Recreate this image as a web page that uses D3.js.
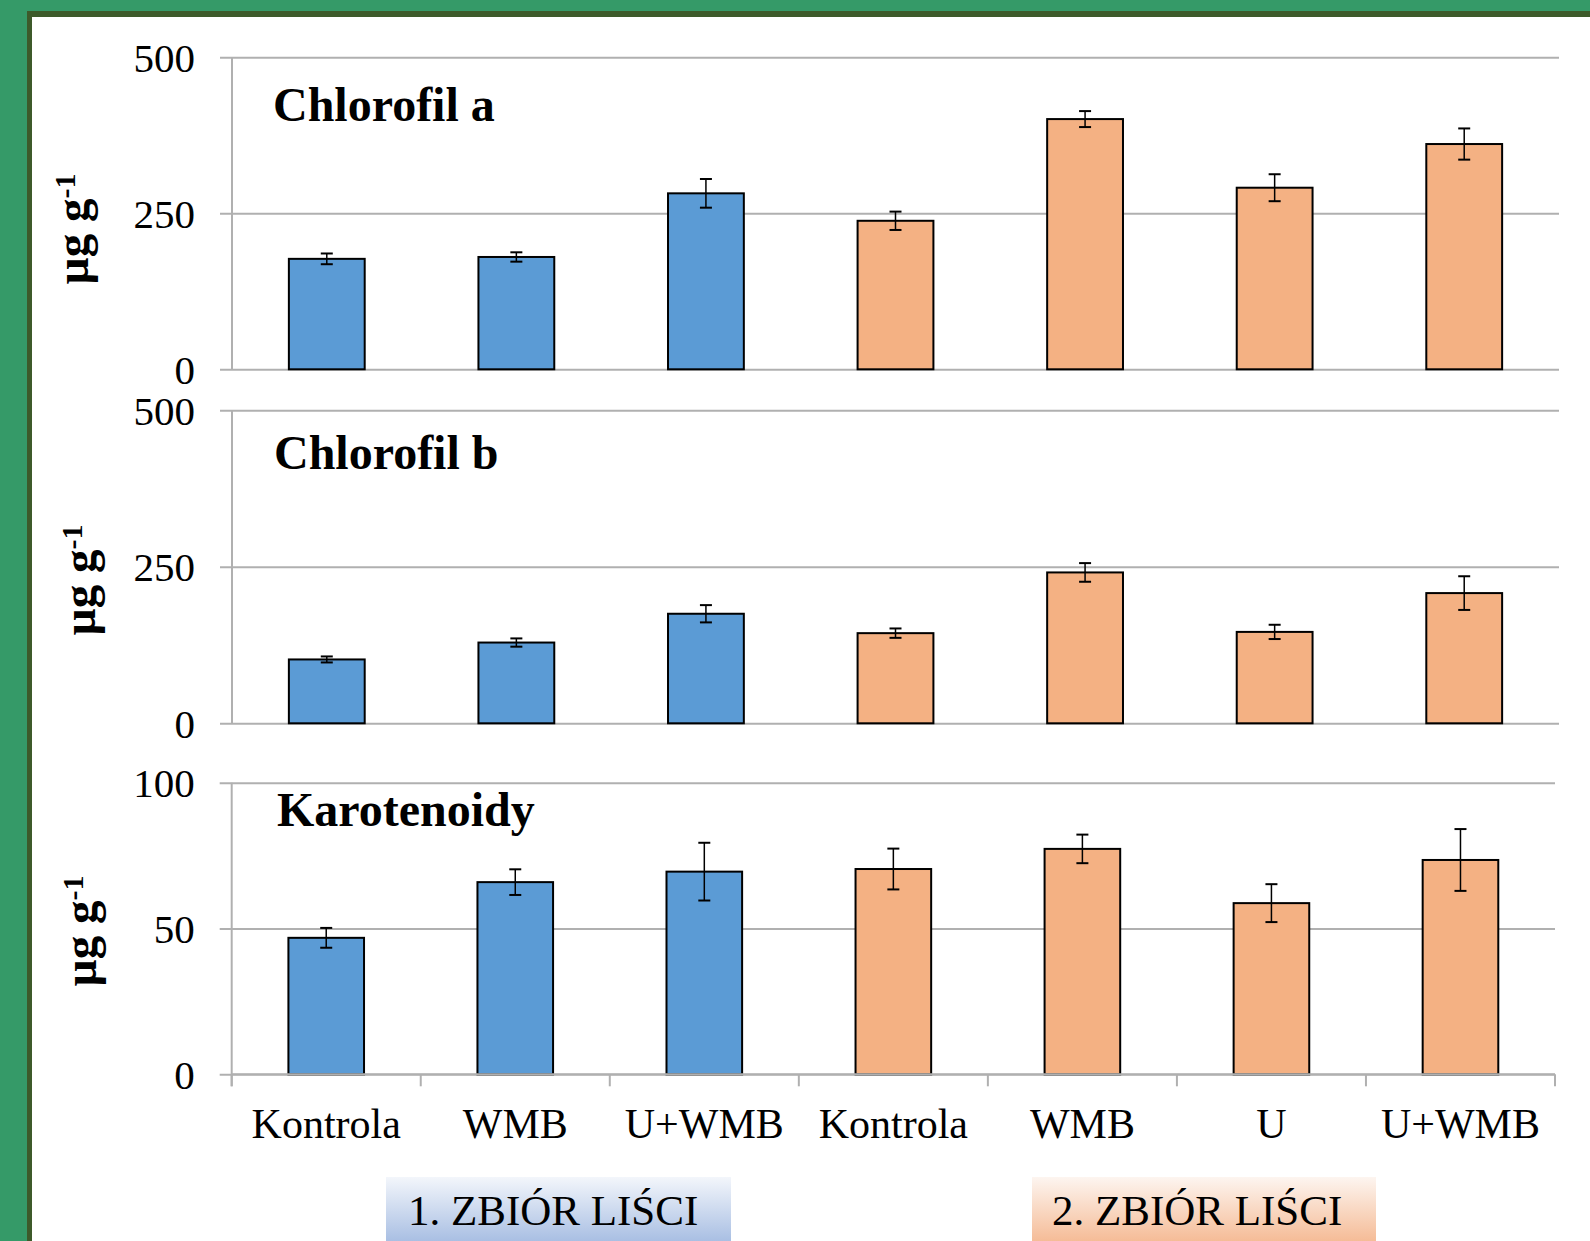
<!DOCTYPE html>
<html>
<head>
<meta charset="utf-8">
<script src="https://cdn.jsdelivr.net/npm/d3@7"></script>
<style>
  html, body { margin: 0; padding: 0; background: #fff; }
  svg { display: block; }
</style>
</head>
<body>
<svg id="chart"></svg>
<script>
// values
const categories = ['Kontrola', 'WMB', 'U+WMB', 'Kontrola', 'WMB', 'U', 'U+WMB'];
const harvest = [1, 1, 1, 2, 2, 2, 2];

const chlA = [177, 180, 282, 238, 401, 291, 361];
const chlAErr = [8.6, 7.5, 23, 14.7, 12.8, 21.6, 25];

const chlB = [102, 129, 175, 144, 241, 146, 208];
const chlBErr = [4.8, 6.6, 13.8, 7.5, 14.9, 11.4, 26.9];

const carot = [46.8, 65.9, 69.5, 70.4, 77.3, 58.7, 73.5];
const carotErr = [3.4, 4.4, 9.9, 7.0, 4.9, 6.5, 10.6];

const harvestLabels = ['1. ZBIÓR LIŚCI', '2. ZBIÓR LIŚCI'];

const W = 1590, H = 1241;
const serif = '"Liberation Serif", "Times New Roman", serif';
const color = d3.scaleOrdinal().domain([1, 2]).range(['#5b9bd5', '#f4b183']);

const svg = d3.select('#chart').attr('width', W).attr('height', H);

// green slide frame
svg.append('rect').attr('width', W).attr('height', H).attr('fill', '#359a68');
svg.append('rect').attr('x', 27).attr('y', 11).attr('width', W).attr('height', H).attr('fill', '#3d5a2a');
svg.append('rect').attr('x', 32).attr('y', 17).attr('width', W).attr('height', H).attr('fill', '#fff');

const panels = [
  { title: 'Chlorofil a', values: chlA, err: chlAErr, max: 500, ticks: [0, 250, 500],
    x0: 232, x1: 1559, top: 57.3, bottom: 369.3, titleX: 273, titleY: 121, labX: 88, labY: 229 },
  { title: 'Chlorofil b', values: chlB, err: chlBErr, max: 500, ticks: [0, 250, 500],
    x0: 232, x1: 1559, top: 410.3, bottom: 723.3, titleX: 274, titleY: 469, labX: 95, labY: 580 },
  { title: 'Karotenoidy', values: carot, err: carotErr, max: 100, ticks: [0, 50, 100],
    x0: 231.7, x1: 1555, top: 782.7, bottom: 1074.3, titleX: 277, titleY: 826, labX: 96, labY: 931, xAxis: true }
];

panels.forEach(p => {
  const g = svg.append('g');
  const x = d3.scaleBand().domain(d3.range(categories.length)).range([p.x0, p.x1])
    .paddingInner(0.6).paddingOuter(0.3);
  const y = d3.scaleLinear().domain([0, p.max]).range([p.bottom, p.top]);

  // gridlines + tick labels
  const yAxis = d3.axisLeft(y).tickValues(p.ticks).tickSize(-(p.x1 - p.x0)).tickSizeOuter(0);
  const ya = g.append('g').attr('transform', `translate(${p.x0},0)`).call(yAxis);
  ya.select('.domain').remove();
  ya.selectAll('.tick line').attr('x1', -12).attr('stroke', '#b0b0b0').attr('stroke-width', 2);
  ya.selectAll('.tick text').attr('x', -37).attr('dy', '0.34em')
    .style('font-family', serif).style('font-size', '41px').attr('fill', '#000');

  // vertical axis line
  g.append('line').attr('x1', p.x0).attr('x2', p.x0).attr('y1', p.top)
    .attr('y2', p.xAxis ? p.bottom + 12 : p.bottom)
    .attr('stroke', '#b0b0b0').attr('stroke-width', 2);

  // bars
  g.selectAll('rect.bar').data(p.values).enter().append('rect').attr('class', 'bar')
    .attr('x', (d, i) => x(i)).attr('width', x.bandwidth())
    .attr('y', d => y(d)).attr('height', d => y(0) - y(d))
    .attr('fill', (d, i) => color(harvest[i]))
    .attr('stroke', '#000').attr('stroke-width', 2);

  // error bars
  const eb = g.selectAll('g.err').data(p.values).enter().append('g').attr('class', 'err')
    .attr('transform', (d, i) => `translate(${x(i) + x.bandwidth() / 2},0)`);
  eb.append('line').attr('y1', (d, i) => y(d + p.err[i])).attr('y2', (d, i) => y(d - p.err[i]))
    .attr('stroke', '#000').attr('stroke-width', 1.5);
  [1, -1].forEach(s => {
    eb.append('line').attr('x1', -6).attr('x2', 6)
      .attr('y1', (d, i) => y(d + s * p.err[i])).attr('y2', (d, i) => y(d + s * p.err[i]))
      .attr('stroke', '#000').attr('stroke-width', 2);
  });

  // category axis on the last panel
  if (p.xAxis) {
    const step = x.step();
    g.append('line').attr('x1', p.x0).attr('x2', p.x1).attr('y1', p.bottom).attr('y2', p.bottom)
      .attr('stroke', '#b0b0b0').attr('stroke-width', 2);
    d3.range(categories.length + 1).forEach(k => {
      const xx = p.x0 + k * step;
      g.append('line').attr('x1', xx).attr('x2', xx).attr('y1', p.bottom).attr('y2', p.bottom + 12)
        .attr('stroke', '#b0b0b0').attr('stroke-width', 2);
    });
    g.selectAll('text.cat').data(categories).enter().append('text').attr('class', 'cat')
      .attr('x', (d, i) => x(i) + x.bandwidth() / 2).attr('y', 1138)
      .attr('text-anchor', 'middle').style('font-family', serif).style('font-size', '42px')
      .text(d => d);
  }

  // panel title
  g.append('text').attr('x', p.titleX).attr('y', p.titleY)
    .style('font-family', serif).style('font-size', '48px').style('font-weight', 'bold')
    .text(p.title);

  // unit label
  const lab = g.append('text').attr('transform', `translate(${p.labX},${p.labY}) rotate(-90)`)
    .attr('text-anchor', 'middle').style('font-family', serif).style('font-size', '47px')
    .style('font-weight', 'bold');
  lab.append('tspan').text('µg g');
  lab.append('tspan').attr('dy', '-0.45em').style('font-size', '30px').text('-1');
});

// harvest boxes
const defs = svg.append('defs');
const grads = [['#f3f6fb', '#a9bfe3'], ['#fdf5f0', '#f5bc97']];
grads.forEach((c, i) => {
  const lg = defs.append('linearGradient').attr('id', 'hg' + i)
    .attr('x1', 0).attr('x2', 0).attr('y1', 0).attr('y2', 1);
  lg.append('stop').attr('offset', 0).attr('stop-color', c[0]);
  lg.append('stop').attr('offset', 1).attr('stop-color', c[1]);
});
const boxes = [{ x: 386, w: 345, tx: 408 }, { x: 1032, w: 344, tx: 1052 }];
boxes.forEach((b, i) => {
  svg.append('rect').attr('x', b.x).attr('y', 1177).attr('width', b.w).attr('height', 64)
    .attr('fill', `url(#hg${i})`);
  svg.append('text').attr('x', b.tx).attr('y', 1225)
    .style('font-family', serif).style('font-size', '43px').text(harvestLabels[i]);
});
</script>
</body>
</html>
